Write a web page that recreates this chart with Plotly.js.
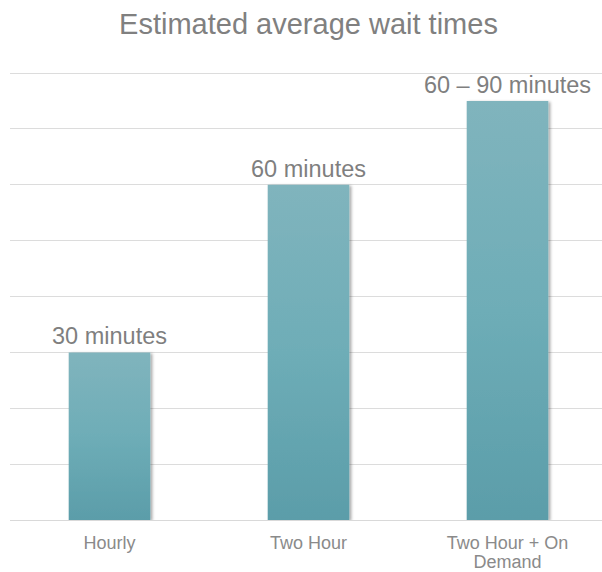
<!DOCTYPE html>
<html><head><meta charset="utf-8">
<script src="https://cdn.plot.ly/plotly-3.0.1.min.js"></script>
<style>html,body{margin:0;padding:0;overflow:hidden;background:#fff;width:602px;height:572px}</style>
</head><body>
<div id="chart" style="width:608px;height:572px"></div>
<script>
const categories = ["Hourly", "Two Hour", "Two Hour + On<br>Demand"];
const waitValues = [30, 60, 75];
const valueLabels = ["30 minutes", "60 minutes", "60 – 90 minutes"];

const FONT = "Liberation Sans, Arial, sans-serif";

const trace = {
  type: "bar",
  x: categories,
  y: waitValues,
  text: valueLabels,
  textposition: "outside",
  constraintext: "none",
  cliponaxis: false,
  textfont: {family: FONT, size: 23.5, color: "#7f7f7f"},
  marker: {color: "#6aa9b3", line: {width: 0}},
  hoverinfo: "none"
};

const layout = {
  width: 608, height: 572,
  margin: {l: 10, r: 1, t: 72, b: 52},
  paper_bgcolor: "#fff", plot_bgcolor: "#fff",
  title: {text: "Estimated average wait times", x: 0.5, xref: "paper", xanchor: "center",
          y: 1 - 24/572, yanchor: "middle",
          font: {family: FONT, size: 29, color: "#808080"}},
  bargap: 0.59,
  showlegend: false,
  xaxis: {range: [-0.5, 2.5], showgrid: false, showline: false, zeroline: false, ticks: "",
          ticklabelstandoff: 10,
          tickfont: {family: FONT, size: 18, color: "#8a8a8a"}, fixedrange: true},
  yaxis: {range: [0, 80.2], tickvals: [0,10,20,30,40,50,60,70,80], showticklabels: false,
          gridcolor: "#dcdcdc", gridwidth: 1,
          zeroline: true, zerolinecolor: "#d9d9d9", zerolinewidth: 1, showline: false, fixedrange: true}
};

Plotly.newPlot("chart", [trace], layout, {displayModeBar: false, staticPlot: true}).then(gd => {
  const svg = gd.querySelector("svg.main-svg");
  const ns = "http://www.w3.org/2000/svg";
  let defs = svg.querySelector("defs");
  if (!defs) { defs = document.createElementNS(ns, "defs"); svg.insertBefore(defs, svg.firstChild); }
  defs.insertAdjacentHTML("beforeend",
    '<linearGradient id="barGrad" x1="0" y1="0" x2="0" y2="1">' +
    '<stop offset="0" stop-color="#80b4bd"/><stop offset="0.5" stop-color="#6eadb7"/><stop offset="1" stop-color="#5b9da9"/></linearGradient>' +
    '<filter id="barShadow" x="-20%" y="-5%" width="140%" height="110%">' +
    '<feDropShadow dx="2" dy="1" stdDeviation="1.6" flood-color="#000" flood-opacity="0.35"/></filter>');
  gd.querySelectorAll(".bars .point path").forEach(p => {
    p.style.fill = "url(#barGrad)";
    p.setAttribute("filter", "url(#barShadow)");
  });
  // slightly tighter line spacing for the two-line tick label
  gd.querySelectorAll(".xtick text tspan.line").forEach(t => {
    const dy = t.getAttribute("dy");
    if (dy && parseFloat(dy) > 0) t.setAttribute("dy", "1.05em");
  });
});
</script>
</body></html>
